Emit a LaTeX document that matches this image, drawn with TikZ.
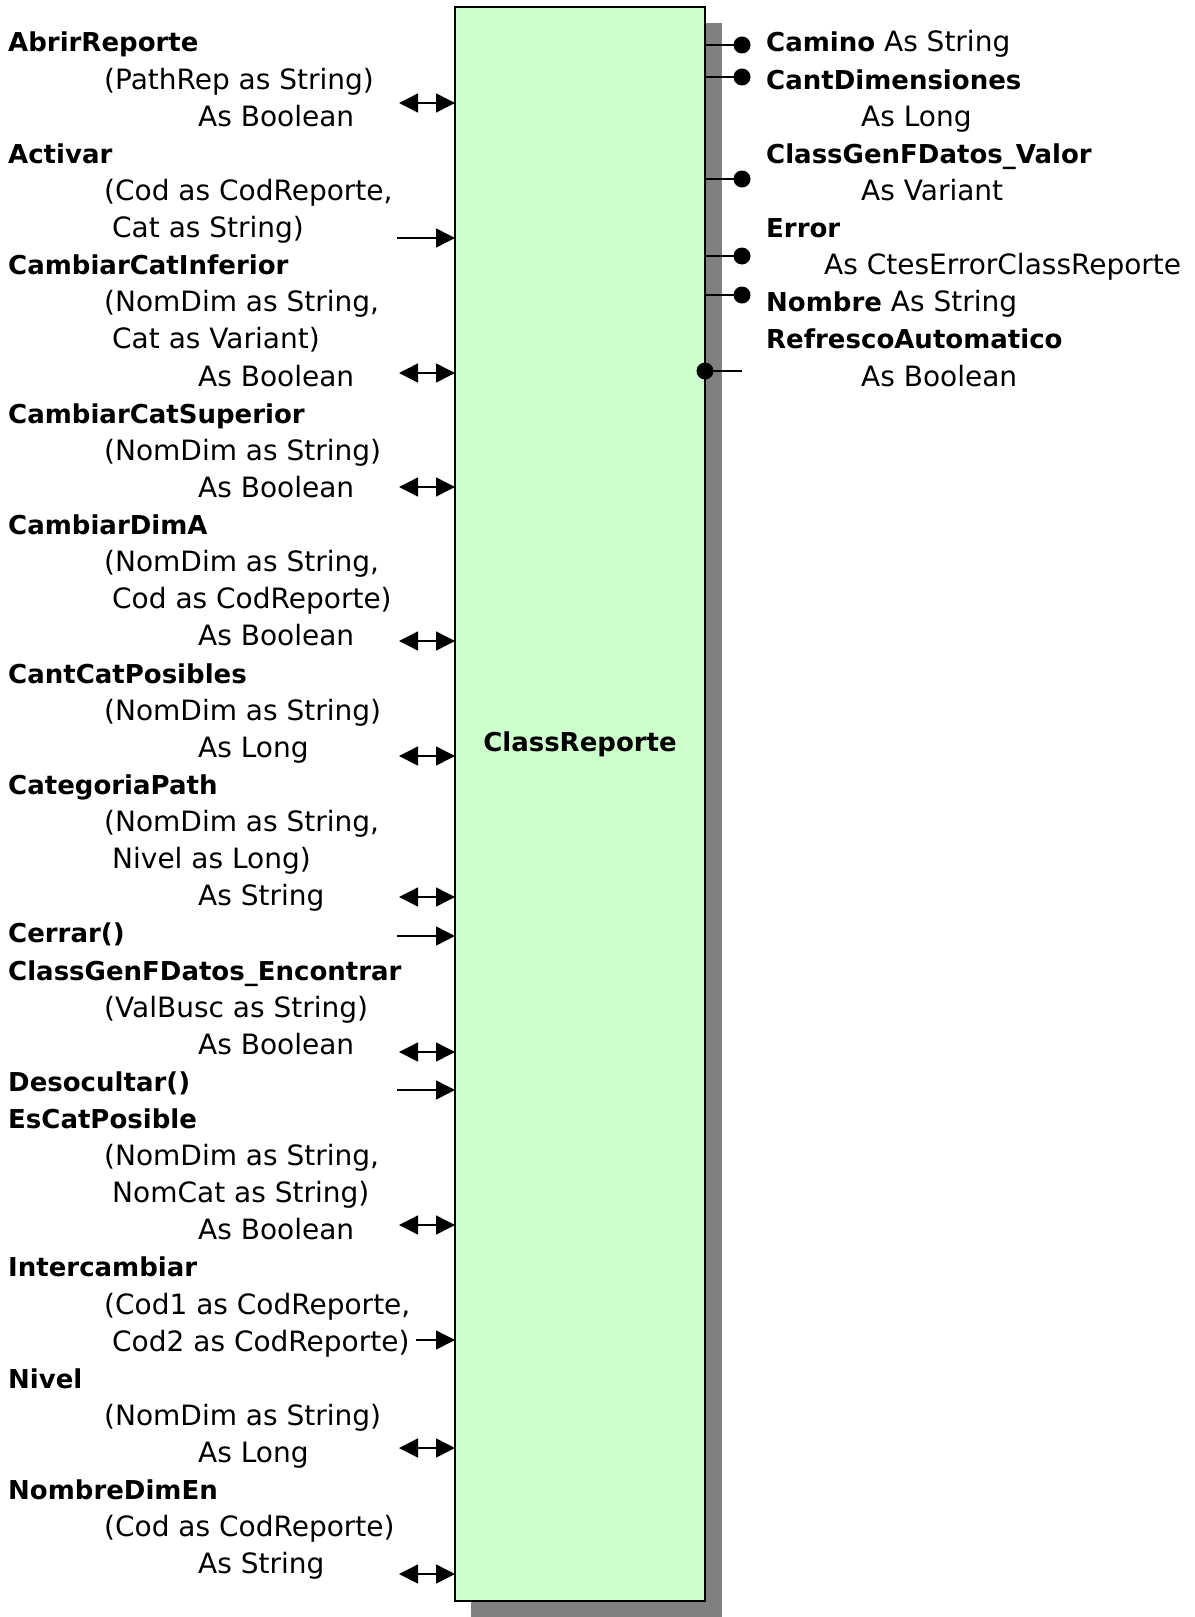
\documentclass[tikz,border=0pt]{standalone}
\usepackage{fontspec}
\setmainfont{DejaVu Sans}
\usetikzlibrary{arrows.meta}
\definecolor{boxfill}{HTML}{CCFFCC}
\definecolor{shadowgray}{HTML}{808080}
% bold member names are set a little smaller than the signatures
\newcommand\nm[1]{{\fontsize{26bp}{30bp}\selectfont\bfseries #1}}
% one text row of a column: index, x, text
\newcommand\leftrow[3]{\node[txt] (l#1) at (#2,{52+37.12*#1}) {#3};}
\newcommand\rightrow[3]{\node[txt] (r#1) at (#2,{52+37.12*#1}) {#3};}
\begin{document}
\begin{tikzpicture}[x=1bp,y=-1bp,
  txt/.style={anchor=base west, inner sep=0pt, font=\fontsize{28bp}{33bp}\selectfont},
  biarrow/.style={line width=1.5bp, {Triangle[length=19bp,width=19bp]}-{Triangle[length=19bp,width=19bp]}},
  uniarrow/.style={line width=1.5bp, -{Triangle[length=19bp,width=19bp]}},
  dot/.style={circle, fill=black, minimum size=17bp, inner sep=0pt},
  stub/.style={line width=1.5bp}
]
\useasboundingbox (0,0) rectangle (1194,1617);

% class box with its drop shadow
\fill[shadowgray] (471,23) rectangle (722,1617);
\node[draw=black, line width=2bp, fill=boxfill, minimum width=250bp, minimum height=1594bp,
      inner sep=0pt, outer sep=0pt, anchor=north west] (cls) at (455,7) {};
\node[inner sep=0pt] (title) at (580,744) {\nm{ClassReporte}};

% methods
\leftrow{0}{8}{\nm{AbrirReporte}}
\leftrow{1}{104}{(PathRep as String)}
\leftrow{2}{198}{As Boolean}
\leftrow{3}{8}{\nm{Activar}}
\leftrow{4}{104}{(Cod as CodReporte,}
\leftrow{5}{112}{Cat as String)}
\leftrow{6}{8}{\nm{CambiarCatInferior}}
\leftrow{7}{104}{(NomDim as String,}
\leftrow{8}{112}{Cat as Variant)}
\leftrow{9}{198}{As Boolean}
\leftrow{10}{8}{\nm{CambiarCatSuperior}}
\leftrow{11}{104}{(NomDim as String)}
\leftrow{12}{198}{As Boolean}
\leftrow{13}{8}{\nm{CambiarDimA}}
\leftrow{14}{104}{(NomDim as String,}
\leftrow{15}{112}{Cod as CodReporte)}
\leftrow{16}{198}{As Boolean}
\leftrow{17}{8}{\nm{CantCatPosibles}}
\leftrow{18}{104}{(NomDim as String)}
\leftrow{19}{198}{As Long}
\leftrow{20}{8}{\nm{CategoriaPath}}
\leftrow{21}{104}{(NomDim as String,}
\leftrow{22}{112}{Nivel as Long)}
\leftrow{23}{198}{As String}
\leftrow{24}{8}{\nm{Cerrar()}}
\leftrow{25}{8}{\nm{ClassGenFDatos\_Encontrar}}
\leftrow{26}{104}{(ValBusc as String)}
\leftrow{27}{198}{As Boolean}
\leftrow{28}{8}{\nm{Desocultar()}}
\leftrow{29}{8}{\nm{EsCatPosible}}
\leftrow{30}{104}{(NomDim as String,}
\leftrow{31}{112}{NomCat as String)}
\leftrow{32}{198}{As Boolean}
\leftrow{33}{8}{\nm{Intercambiar}}
\leftrow{34}{104}{(Cod1 as CodReporte,}
\leftrow{35}{112}{Cod2 as CodReporte)}
\leftrow{36}{8}{\nm{Nivel}}
\leftrow{37}{104}{(NomDim as String)}
\leftrow{38}{198}{As Long}
\leftrow{39}{8}{\nm{NombreDimEn}}
\leftrow{40}{104}{(Cod as CodReporte)}
\leftrow{41}{198}{As String}

% method connectors
\foreach \n/\yy in {a0/103, a2/373, a3/487, a4/641, a5/756, a6/897, a8/1052, a10/1225, a12/1448, a13/1574}{
  \coordinate (\n) at (399,\yy);
  \draw[biarrow] (\n) -- (\n -| cls.west);
}
\foreach \n/\xx/\yy in {a1/397/238, a7/397/936, a9/397/1090, a11/416/1340}{
  \coordinate (\n) at (\xx,\yy);
  \draw[uniarrow] (\n) -- (\n -| cls.west);
}

% properties
\rightrow{0}{766}{\nm{Camino} As String}
\rightrow{1}{766}{\nm{CantDimensiones}}
\rightrow{2}{861}{As Long}
\rightrow{3}{766}{\nm{ClassGenFDatos\_Valor}}
\rightrow{4}{861}{As Variant}
\rightrow{5}{766}{\nm{Error}}
\rightrow{6}{824}{As CtesErrorClassReporte}
\rightrow{7}{766}{\nm{Nombre} As String}
\rightrow{8}{766}{\nm{RefrescoAutomatico}}
\rightrow{9}{861}{As Boolean}

% property connectors
\foreach \n/\yy in {p0/45, p1/77, p2/179, p3/256, p4/295}{
  \node[dot] (\n) at (742,\yy) {};
  \draw[stub] (\n -| cls.east) -- (\n.center);
}
\node[dot] (p5) at (705,371) {};
\coordinate (q5) at (742,371);
\draw[stub] (p5.center) -- (q5);
\end{tikzpicture}
\end{document}
